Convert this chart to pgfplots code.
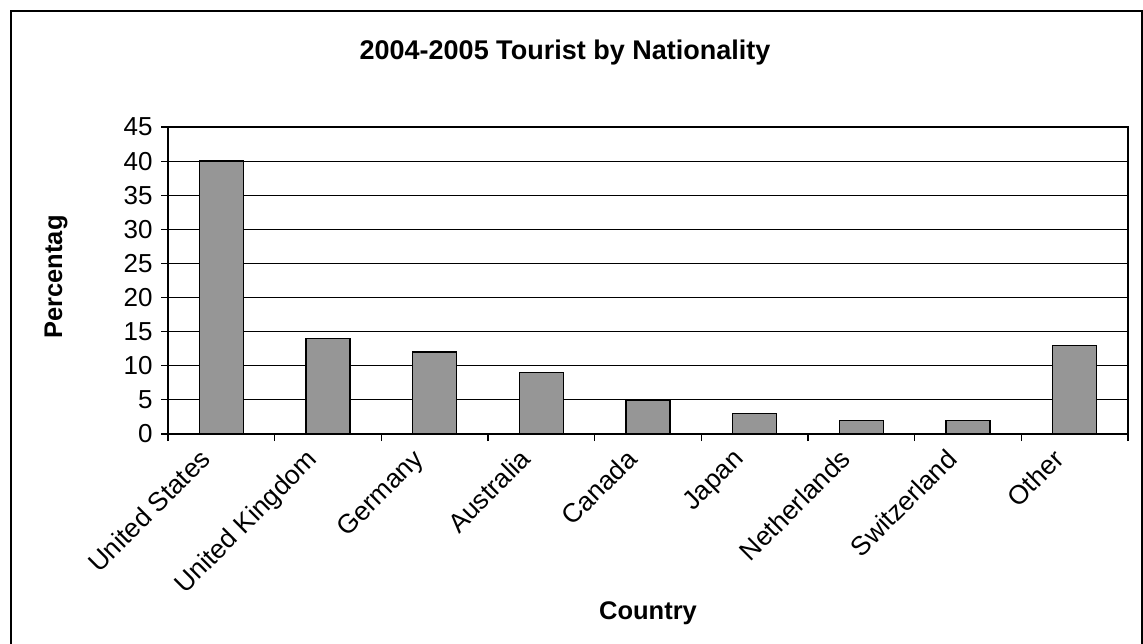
\documentclass[border=0pt]{standalone}
\usepackage{fontspec}
\setmainfont{Liberation Sans}
\usepackage{pgfplots}
\pgfplotsset{compat=1.18}
\definecolor{barfill}{RGB}{150,150,150}
\begin{document}
\begin{tikzpicture}
\useasboundingbox (0,0) rectangle (571.5pt,321.5pt);
\draw[line width=1pt] (5.5pt,-3pt) -- (5.5pt,316pt) -- (571pt,316pt) -- (571pt,-3pt);
\begin{axis}[
  at={(84pt,104.5pt)}, anchor=south west,
  scale only axis, width=480pt, height=153.5pt,
  xmin=-0.5, xmax=8.5, ymin=0, ymax=45,
  ytick={0,5,...,45},
  xtick={0,...,8},
  xticklabels={United States,United Kingdom,Germany,Australia,Canada,Japan,Netherlands,Switzerland,Other},
  major x tick style={draw=none},
  extra x ticks={-0.5,0.5,...,8.5},
  extra x tick labels={},
  extra x tick style={major tick length=3.5pt, tick align=outside, xtick pos=bottom, major x tick style={draw=black, line width=0.6pt}},
  xtick pos=bottom, ytick pos=left,
  tick align=outside, major tick length=3.5pt,
  tick style={black, line width=0.6pt},
  ymajorgrids, grid style={black, line width=0.5pt},
  axis line style={black, line width=0.8pt},
  /pgf/number format/assume math mode=true,
  yticklabel style={font=\fontsize{13}{13}\selectfont, inner sep=0pt, xshift=-4pt},
  xticklabel style={font=\fontsize{13.25}{13.25}\selectfont, inner sep=0pt, xshift=-11.5pt, yshift=-3pt, anchor=north east, rotate=45},
  title={\textbf{2004-2005 Tourist by Nationality}},
  title style={font=\fontsize{13.5}{13.5}\selectfont, at={(rel axis cs:0.5,1)}, anchor=center, xshift=-41.5pt, yshift=31pt},
  xlabel={\textbf{Country}},
  xlabel style={font=\fontsize{12.75}{12.75}\selectfont, at={(rel axis cs:0.5,0)}, anchor=center, yshift=-89.5pt},
  ylabel={\textbf{Percentag}},
  ylabel style={font=\fontsize{12.75}{12.75}\selectfont, at={(rel axis cs:0,0.5)}, anchor=center, xshift=1.75pt, yshift=56pt},
  ybar, bar width=22pt,
  clip=false,
]
\addplot[ybar, fill=barfill, draw=black, line width=0.8pt] coordinates {
(0,40) (1,14) (2,12) (3,9) (4,5) (5,3) (6,2) (7,2) (8,13)
};
\end{axis}
\end{tikzpicture}
\end{document}
